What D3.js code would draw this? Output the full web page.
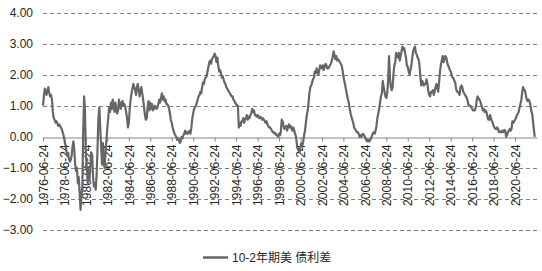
<!DOCTYPE html>
<html>
<head>
<meta charset="utf-8">
<script src="https://cdn.jsdelivr.net/npm/d3@7"></script>
<style>
body{margin:0;background:#fff;}
text{font-family:"Liberation Sans",Arial,"Noto Sans CJK SC",sans-serif;}
</style>
</head>
<body>
<div class="boundary"></div>
<script>
// chart data (monthly, starting 1976-06-24)
var seriesName = "10-2年期美 债利差";
var firstDate = "1976-06-24";
var lastAxisDate = "2022-07-10";
var xTickLabels = ["1976-06-24","1978-06-24","1980-06-24","1982-06-24","1984-06-24","1986-06-24",
  "1988-06-24","1990-06-24","1992-06-24","1994-06-24","1996-06-24","1998-06-24","2000-06-24",
  "2002-06-24","2004-06-24","2006-06-24","2008-06-24","2010-06-24","2012-06-24","2014-06-24",
  "2016-06-24","2018-06-24","2020-06-24"];
var yTicks = [-3,-2,-1,0,1,2,3,4];
var spread = [
  1.0,1.3,1.55,1.45,1.35,1.5,1.6,                                 // 1976 Jun-Dec
  1.4,1.3,1.35,1.2,0.8,0.6,0.55,0.45,0.5,0.45,0.35,0.4,           // 1977
  0.35,0.3,0.25,0.15,0.05,-0.1,-0.25,-0.45,-0.6,-0.55,-0.7,-0.8,  // 1978
  -0.75,-0.6,-0.35,-0.15,-0.4,-0.9,-1.1,-1.0,-1.5,-1.3,-1.8,-2.35,// 1979
  -1.9,-1.6,0.2,1.3,0.8,-0.6,-1.0,-1.5,-1.1,-1.4,-0.9,-0.5,       // 1980
  -0.6,-1.3,-1.6,-1.5,-1.7,-1.2,-0.4,0.6,0.95,0.3,-0.3,-0.9,      // 1981
  -0.2,-0.8,-1.0,-0.5,-0.1,0.3,0.6,0.95,0.8,1.1,0.9,1.2,          // 1982
  1.0,0.8,1.1,0.9,0.75,0.85,1.2,1.0,0.9,1.1,1.15,1.0,             // 1983
  1.05,0.95,0.8,0.6,0.3,0.45,0.9,1.2,1.4,1.55,1.7,1.6,            // 1984
  1.5,1.35,1.6,1.7,1.5,1.3,1.45,1.6,1.4,1.2,0.95,0.7,             // 1985
  0.55,0.6,0.95,1.15,0.85,1.1,0.9,1.05,0.85,0.9,1.0,0.95,         // 1986
  0.9,0.95,1.05,1.2,1.1,1.25,1.4,1.2,1.3,1.15,1.2,1.05,           // 1987
  1.05,1.0,0.9,0.75,0.55,0.45,0.3,0.2,0.1,0.05,0.0,-0.1,          // 1988
  -0.05,-0.1,-0.2,-0.15,0.0,-0.05,0.05,0.1,0.2,0.1,0.15,0.1,      // 1989
  0.15,0.2,0.1,0.3,0.6,0.75,0.9,0.95,1.0,1.1,1.2,1.3,             // 1990
  1.35,1.45,1.4,1.6,1.75,1.7,1.85,1.9,1.95,2.1,2.25,2.4,          // 1991
  2.45,2.35,2.5,2.55,2.6,2.68,2.6,2.4,2.55,2.3,2.1,2.15,          // 1992
  2.05,1.9,1.95,1.85,1.75,1.7,1.6,1.55,1.5,1.45,1.4,1.35,         // 1993
  1.3,1.3,1.2,1.15,1.1,1.05,1.0,1.0,0.3,0.45,0.35,0.5,            // 1994
  0.5,0.6,0.45,0.55,0.6,0.7,0.55,0.65,0.6,0.7,0.75,0.9,           // 1995
  0.8,0.85,0.7,0.7,0.65,0.7,0.65,0.6,0.65,0.6,0.55,0.6,           // 1996
  0.55,0.5,0.45,0.5,0.4,0.35,0.3,0.3,0.25,0.2,0.15,0.15,          // 1997
  0.1,0.12,0.05,0.05,0.0,0.1,0.05,0.15,0.55,0.5,0.35,0.25,        // 1998
  0.3,0.35,0.2,0.3,0.4,0.3,0.35,0.25,0.2,0.3,0.2,0.1,             // 1999
  0.0,-0.25,-0.4,-0.45,-0.5,-0.3,-0.2,-0.3,-0.15,0.05,0.2,0.45,   // 2000
  0.7,0.85,1.1,1.4,1.6,1.65,1.75,1.85,1.9,2.1,2.05,2.2,           // 2001
  2.1,2.0,2.15,2.3,2.25,2.2,2.3,2.15,2.25,2.35,2.3,2.2,           // 2002
  2.2,2.25,2.3,2.35,2.45,2.55,2.75,2.65,2.5,2.6,2.45,2.5,         // 2003
  2.45,2.4,2.35,2.3,2.15,1.95,1.8,1.65,1.5,1.35,1.2,1.1,          // 2004
  0.9,0.75,0.65,0.55,0.45,0.3,0.25,0.2,0.15,0.15,0.1,0.0,         // 2005
  0.05,0.0,0.05,0.1,0.05,0.0,-0.05,-0.1,-0.15,-0.1,-0.15,-0.1,    // 2006
  -0.05,0.05,0.1,0.15,0.1,0.2,0.35,0.6,0.75,0.9,1.1,1.3,          // 2007
  1.4,1.8,1.6,1.45,1.3,1.25,1.4,1.8,2.6,1.9,1.6,1.5,              // 2008
  1.6,2.05,2.3,2.4,2.7,2.6,2.55,2.7,2.45,2.6,2.75,2.9,            // 2009
  2.8,2.85,2.7,2.55,2.3,2.25,2.1,2.0,2.15,2.3,2.55,2.75,          // 2010
  2.85,2.9,2.7,2.65,2.55,2.5,2.35,1.95,1.65,1.8,1.75,1.65,        // 2011
  1.7,1.7,1.85,1.7,1.45,1.35,1.3,1.45,1.45,1.5,1.35,1.45,         // 2012
  1.6,1.7,1.6,1.45,1.75,2.1,2.3,2.45,2.6,2.4,2.5,2.6,             // 2013
  2.55,2.4,2.3,2.25,2.15,2.1,2.0,1.9,1.9,1.8,1.75,1.55,           // 2014
  1.45,1.45,1.4,1.35,1.6,1.65,1.6,1.45,1.4,1.35,1.3,1.25,         // 2015
  1.15,1.0,1.0,1.0,0.95,0.9,0.85,0.85,0.85,0.95,1.15,1.3,         // 2016
  1.25,1.2,1.15,1.05,0.95,0.85,0.9,0.8,0.85,0.8,0.65,0.55,        // 2017
  0.55,0.7,0.6,0.5,0.45,0.35,0.3,0.25,0.25,0.3,0.25,0.15,         // 2018
  0.18,0.15,0.15,0.2,0.15,0.22,0.2,0.0,0.05,0.15,0.2,0.25,        // 2019
  0.2,0.25,0.5,0.45,0.5,0.55,0.6,0.7,0.75,0.8,0.95,1.05,          // 2020
  1.2,1.45,1.6,1.5,1.5,1.35,1.2,1.15,1.2,1.15,1.05,0.85,          // 2021
  0.75,0.5,0.25,0.0                                               // 2022 Jan-Apr
];

var width = 542;
var height = 271;
var svg = d3.select(".boundary").append("svg")
            .attr("width", width).attr("height", height)
            .style("display", "block").style("background", "#fff");

var parse = d3.timeParse("%Y-%m-%d");
var start = parse(firstDate);
var points = spread.map(function(v, i){
  return {date: d3.timeMonth.offset(start, i), value: v};
});

var x = d3.scaleTime().domain([start, parse(lastAxisDate)]).range([43, 537]);
var y = d3.scaleLinear().domain([-3, 4]).range([230, 12.5]);

// dashed gridlines (zero is drawn by the x axis)
svg.append("g").selectAll("line")
   .data(yTicks.filter(function(d){ return d !== 0; }))
   .enter().append("line")
   .attr("x1", x.range()[0]).attr("x2", x.range()[1])
   .attr("y1", function(d){ return Math.round(y(d)) + 0.5; })
   .attr("y2", function(d){ return Math.round(y(d)) + 0.5; })
   .attr("stroke", "#808080").attr("stroke-width", 1)
   .attr("stroke-dasharray", "4,3");

// y axis labels
var yAxis = svg.append("g").attr("transform", "translate(43,0)")
   .call(d3.axisLeft(y).tickValues(yTicks).tickFormat(d3.format(".2f")).tickSize(0).tickPadding(10));
yAxis.select(".domain").remove();
yAxis.selectAll("text").attr("font-size", 12).attr("fill", "#262626")
     .style("font-family", '"Liberation Sans", Arial, sans-serif');

// x axis on the zero line
var xAxis = svg.append("g").attr("transform", "translate(0," + (Math.round(y(0)) + 0.5) + ")")
   .call(d3.axisBottom(x).tickValues(xTickLabels.map(parse))
           .tickFormat(d3.timeFormat("%Y-%m-%d")).tickSize(4).tickSizeOuter(0));
xAxis.selectAll(".domain, line").attr("stroke", "#868686");
xAxis.selectAll("text")
     .attr("font-size", 12).attr("fill", "#262626")
     .attr("text-anchor", "end")
     .attr("x", -7).attr("y", 0).attr("dy", "0.35em")
     .attr("transform", "rotate(-90)")
     .style("font-family", '"Liberation Sans", Arial, sans-serif');

// the series
var line = d3.line()
   .x(function(d){ return x(d.date); })
   .y(function(d){ return y(d.value); });
svg.append("path").datum(points)
   .attr("d", line)
   .attr("fill", "none")
   .attr("stroke", "#666666")
   .attr("stroke-width", 2.2)
   .attr("stroke-linejoin", "round");

// legend
var legend = svg.append("g").attr("transform", "translate(203,257.5)");
legend.append("line").attr("x1", 0).attr("x2", 25).attr("y1", 0).attr("y2", 0)
      .attr("stroke", "#666666").attr("stroke-width", 2.5);
legend.append("text").attr("x", 29).attr("y", 4.5)
      .attr("font-size", 12).attr("fill", "#262626")
      .text(seriesName);
</script>
</body>
</html>
